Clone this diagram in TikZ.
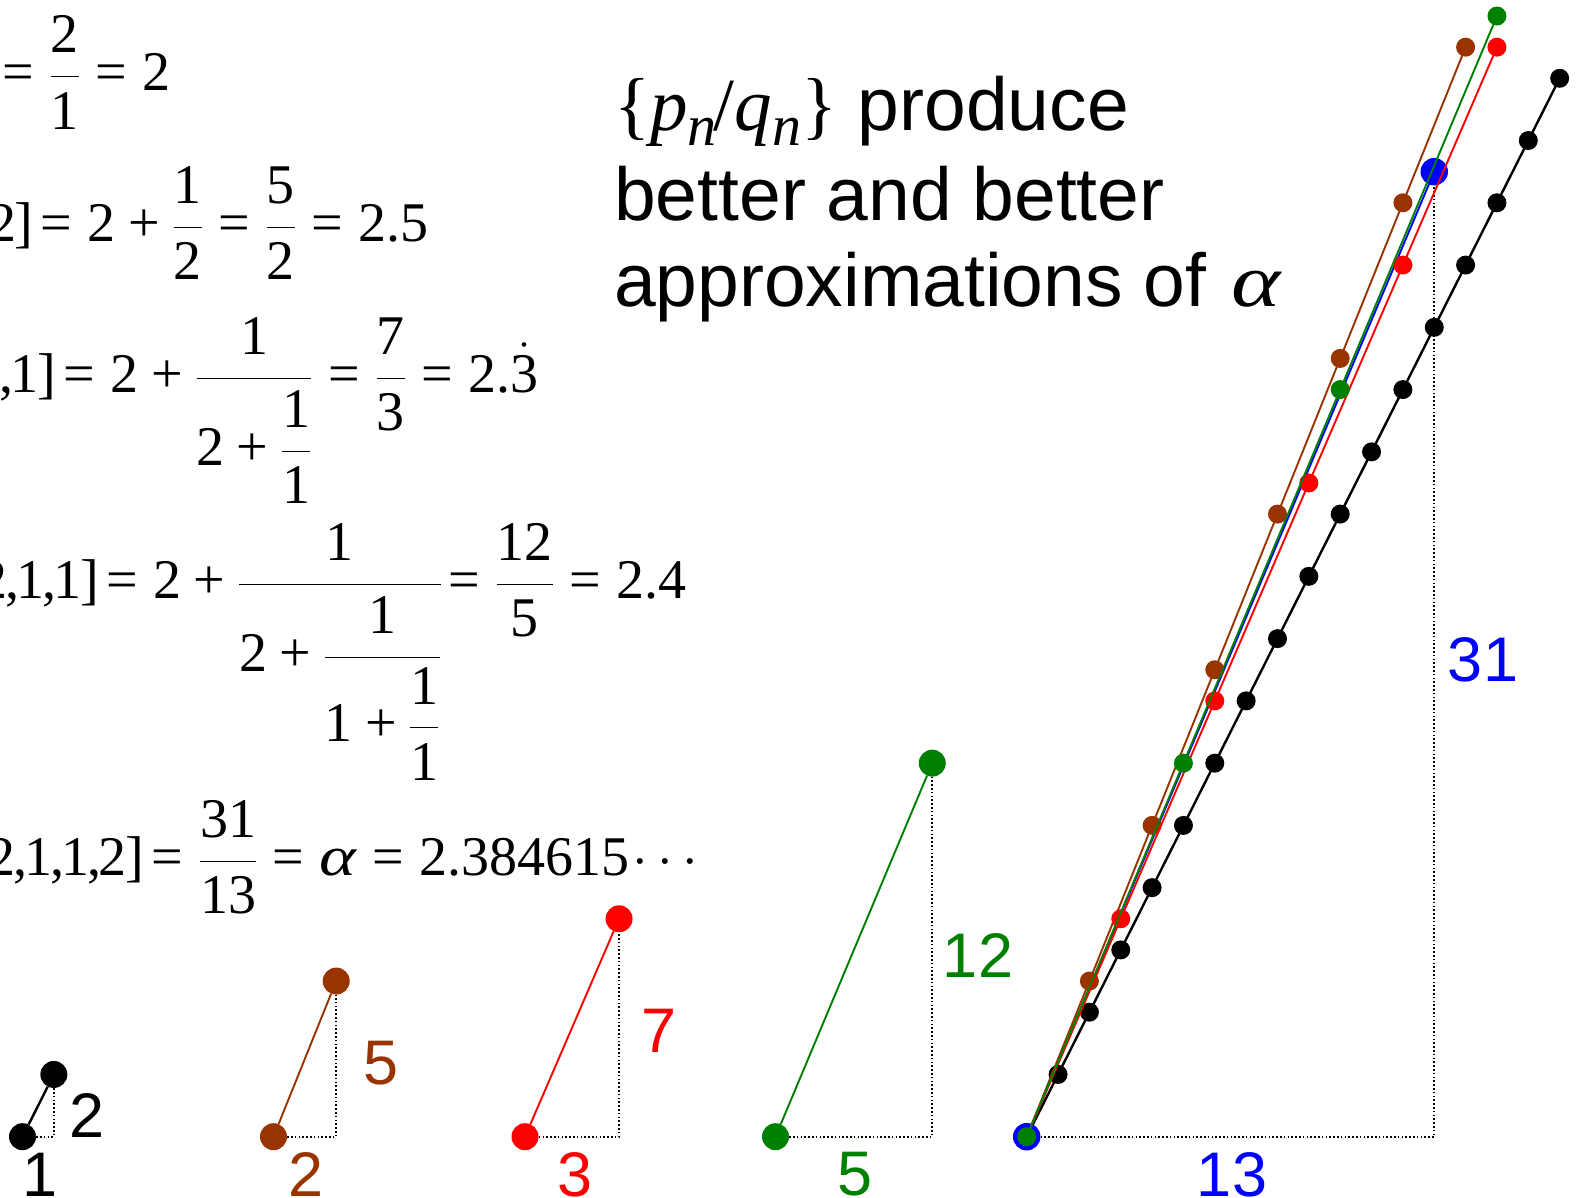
\documentclass[tikz,border=0pt]{standalone}
\usepackage{amsmath}
\usepackage{fix-cm}
\usepackage{fontspec}
\setmainfont{Liberation Serif}
\setsansfont{Liberation Sans}
\definecolor{cbrown}{HTML}{993300}
\definecolor{cred}{HTML}{FF0000}
\definecolor{cgreen}{HTML}{008000}
\definecolor{cblue}{HTML}{0000FF}
\newcommand\EQ{\mathrel{\text{=}}}
\newcommand\PL{\mathbin{\text{+}}}
\newcommand\N[1]{\text{#1}}
\newcommand\cm{\kern-2pt,\kern-3pt}
\newcommand\alp{\text{\scalebox{1.25}[1]{\itshape α}}}
\tikzset{
  dotline/.style={line width=1.6pt, dash pattern=on 1.6pt off 2.2pt},
  chainblk/.style={line width=2.4pt},
  chaincol/.style={line width=1.9pt},
  chaindot/.style={circle, inner sep=0pt, minimum size=19pt},
  bigdot/.style={circle, inner sep=0pt, minimum size=27.5pt},
  tridot/.style={circle, inner sep=0pt, minimum size=27pt},
  lab/.style={font=\sffamily\fontsize{63}{63}\selectfont, inner sep=0pt, anchor=center},
  eqn/.style={font=\fontsize{56}{62}\selectfont, inner sep=0pt, anchor=base west},
  ttl/.style={font=\sffamily\fontsize{75}{88}\selectfont, inner sep=0pt, anchor=base west},
}
\begin{document}
\begin{tikzpicture}[x=1pt,y=-1pt]
\useasboundingbox (0,0) rectangle (1577,1198);
\fill[white] (0,0) rectangle (1577,1198);

% ---------- equations ----------
\node[eqn] (e1) at (2,90.5) {$\EQ\dfrac{\N2}{\rule{0pt}{50pt}\N1}\EQ \N2$};
\node[eqn] (e2) at (25,241.5) {$\llap{2\kern-2pt]\kern-8pt}\EQ \N2\PL\dfrac{\N1}{\N2}\EQ\dfrac{\N5}{\N2}\EQ \N{2.5}$};
\node[eqn] (e3) at (48,392) {$\llap{2\cm1\kern-1pt]\kern-8pt}\EQ \N2\PL\dfrac{\N1}{\rule{0pt}{84pt}\N2\PL\dfrac{\N1}{\N1}}\EQ\dfrac{\N7}{\N3}\EQ \N{2.}\dot{\N3}$};
\node[eqn] (e4) at (90.5,598) {$\llap{2\cm1\cm1\kern-1pt]\kern-8pt}\EQ \N2\PL\dfrac{\N1}{\rule{0pt}{84pt}\N2\PL\dfrac{\N1}{\rule{0pt}{81pt}\N1\PL\dfrac{\N1}{\N1}}}\mkern-3mu\EQ\dfrac{\N{12}}{\N5}\EQ \N{2.4}$};
\node[eqn] (e5) at (136,875) {$\llap{2\cm1\cm1\cm2\kern-1pt]\kern-8pt}\EQ\dfrac{\N{31}}{\N{13}}\EQ\alp\EQ \N{2.384615}\mkern-2mu\cdots$};

% ---------- title ----------
\node[ttl] (t1) at (614,131) {{\rmfamily\{\textit{p}\raisebox{-0.19em}{\fontsize{58}{58}\selectfont\textit{n}}\kern-3pt/\textit{q}\raisebox{-0.19em}{\fontsize{58}{58}\selectfont\textit{n}}\}} produce};
\node[ttl] (t2) at (614,221) {better and better};
\node[ttl] (t3) at (614,307) {approximations of \kern4pt{\rmfamily\scalebox{1.25}[1]{\itshape α}}};

% ---------- small triangles ----------
\begin{scope}[shift={(22.5,1136.7)}, x=31.35pt, y=31.13pt]
  \node[tridot, fill=black] (s1a) at (0,0) {};
  \node[tridot, fill=black] (s1b) at (1,2) {};
  \draw[chainblk] (s1a) -- (s1b);
  \draw[dotline] (s1a) -- (s1a -| s1b) -- (s1b);
\end{scope}
\begin{scope}[shift={(273.5,1136.7)}, x=31.35pt, y=31.13pt]
  \node[tridot, fill=cbrown] (s2a) at (0,0) {};
  \node[tridot, fill=cbrown] (s2b) at (2,5) {};
  \draw[chaincol, cbrown] (s2a) -- (s2b);
  \draw[dotline] (s2a) -- (s2a -| s2b) -- (s2b);
\end{scope}
\begin{scope}[shift={(525,1136.7)}, x=31.35pt, y=31.13pt]
  \node[tridot, fill=cred] (s3a) at (0,0) {};
  \node[tridot, fill=cred] (s3b) at (3,7) {};
  \draw[chaincol, cred] (s3a) -- (s3b);
  \draw[dotline] (s3a) -- (s3a -| s3b) -- (s3b);
\end{scope}
\begin{scope}[shift={(775.5,1136.7)}, x=31.35pt, y=31.13pt]
  \node[tridot, fill=cgreen] (s4a) at (0,0) {};
  \node[tridot, fill=cgreen] (s4b) at (5,12) {};
  \draw[chaincol, cgreen] (s4a) -- (s4b);
  \draw[dotline] (s4a) -- (s4a -| s4b) -- (s4b);
\end{scope}

% ---------- big diagram ----------
\begin{scope}[shift={(1026.7,1136.7)}, x=31.35pt, y=31.13pt]
  \coordinate (O) at (0,0);
  % black chain
  \foreach \k in {0,...,17} \coordinate (k\k) at (\k,2*\k);
  \draw[chainblk] (k0) -- (k17);
  \foreach \k in {1,...,17} \node[chaindot, fill=black] (kd\k) at (k\k) {};
  % blue
  \coordinate (u1) at (13,31);
  \coordinate (C) at (13,0);
  \node[bigdot, fill=cblue] (ud0) at (O) {};
  \draw[chaincol, cblue] (O) -- (u1);
  \node[bigdot, fill=cblue] (ud1) at (u1) {};
  \draw[dotline] (ud0) -- (C) -- (ud1);
  % brown
  \foreach \k in {1,...,7} \coordinate (b\k) at (2*\k,5*\k);
  \draw[chaincol, cbrown] (O) -- (b7);
  \foreach \k in {1,...,7} \node[chaindot, fill=cbrown] (bd\k) at (b\k) {};
  % red
  \foreach \k in {1,...,5} \coordinate (r\k) at (3*\k,7*\k);
  \draw[chaincol, cred] (O) -- (r5);
  \foreach \k in {1,...,5} \node[chaindot, fill=cred] (rd\k) at (r\k) {};
  % green
  \foreach \k in {1,2,3} \coordinate (g\k) at (5*\k,12*\k);
  \draw[chaincol, cgreen] (O) -- (g3);
  \foreach \k in {1,2,3} \node[chaindot, fill=cgreen] (gd\k) at (g\k) {};
  \node[chaindot, fill=cgreen] (gd0) at (O) {};
\end{scope}

% ---------- labels ----------
\node[lab] (l1a) at (40.5,1174.5) {1};
\node[lab] (l1b) at (87.5,1115) {2};
\node[lab, text=cbrown] (l2a) at (306.5,1174.5) {2};
\node[lab, text=cbrown] (l2b) at (381,1063) {5};
\node[lab, text=cred] (l3a) at (575,1174.5) {3};
\node[lab, text=cred] (l3b) at (659,1031) {7};
\node[lab, text=cgreen] (l4a) at (855.5,1174.5) {5};
\node[lab, text=cgreen] (l4b) at (978,955) {12};
\node[lab, text=cblue] (l5a) at (1232,1174.5) {13};
\node[lab, text=cblue] (l5b) at (1483,660) {31};
\end{tikzpicture}
\end{document}
